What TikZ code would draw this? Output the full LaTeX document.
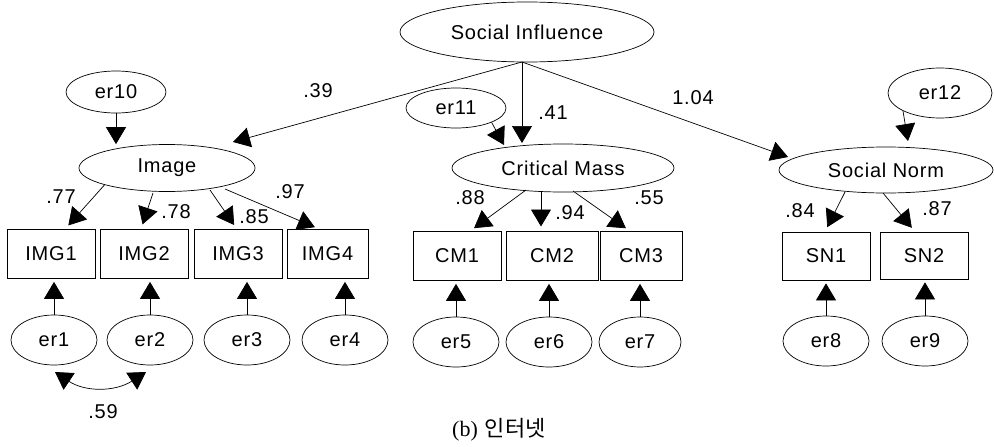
\documentclass[tikz,border=0pt]{standalone}
\usepackage{fontspec}
\setmainfont{Liberation Sans}[LetterSpace=4]
\newfontfamily\capserif{Liberation Serif}
\newfontfamily\kr{Noto Sans CJK KR}
\usetikzlibrary{shapes.geometric,arrows.meta,calc}
\tikzset{
  ell/.style={draw, ellipse, inner sep=0pt, line width=0.7pt, font=\fontsize{20}{22}\selectfont},
  obs/.style={draw, rectangle, inner sep=0pt, line width=0.7pt, minimum width=88, minimum height=49, font=\fontsize{20}{22}\selectfont},
  errell/.style={ell, minimum width=86, minimum height=50},
  arr/.style={line width=0.7pt, -{Triangle[length=17pt,width=20pt]}},
  lab/.style={font=\fontsize{20}{22}\selectfont, inner sep=0pt}
}
\begin{document}
\begin{tikzpicture}[x=1pt,y=-1pt]
\useasboundingbox (0,0) rectangle (994,447);
% latent
\node[ell, minimum width=254, minimum height=60] (SI) at (527,32) {Social Influence};
\node[ell, minimum width=176, minimum height=47] (IM) at (167,168) {Image};
\node[ell, minimum width=222, minimum height=48] (CM) at (563,168) {Critical Mass};
\node[ell, minimum width=214, minimum height=46] (SN) at (886,170) {Social Norm};
\node[ell, minimum width=100, minimum height=42] (e10) at (116,92) {er10};
\node[ell, minimum width=100, minimum height=40] (e11) at (456,108) {er11};
\node[ell, minimum width=104, minimum height=50] (e12) at (940,93) {er12};
% observed
\node[obs] (I1) at (51,254) {IMG1};
\node[obs] (I2) at (144,254) {IMG2};
\node[obs] (I3) at (238,254) {IMG3};
\node[obs, minimum width=81] (I4) at (327.5,254) {IMG4};
\node[obs] (C1) at (457,256) {CM1};
\node[obs, minimum width=92] (C2) at (552,256) {CM2};
\node[obs, minimum width=82] (C3) at (641,256) {CM3};
\node[obs, minimum height=48] (S1) at (826,256) {SN1};
\node[obs, minimum height=47] (S2) at (924,255.5) {SN2};
% errors
\node[errell] (e1) at (54,340) {er1};
\node[errell] (e2) at (150,340) {er2};
\node[errell] (e3) at (247,340) {er3};
\node[errell] (e4) at (345,340) {er4};
\node[errell] (e5) at (456,342) {er5};
\node[errell] (e6) at (549,342) {er6};
\node[errell, minimum width=82] (e7) at (640,342) {er7};
\node[errell] (e8) at (826,341) {er8};
\node[errell] (e9) at (925,341) {er9};
% structural paths
\coordinate (SIb) at (522,62);
\coordinate (IMt) at (233,142);
\coordinate (CMt) at (522,143);
\coordinate (SNt) at (788,157);
\coordinate (e11t) at (504,145);
\coordinate (e12t) at (908,141);
\draw[arr] (SIb) -- (IMt);
\draw[arr] (SIb) -- (CMt);
\draw[arr] (SIb) -- (SNt);
\draw[arr] (e10.south) -- (e10.south |- IM.north);
\draw[arr] (e11.south east) -- (e11t);
\draw[arr] (e12.south west) -- (e12t);
% loadings
\begin{scope}[shorten >=5pt]
\draw[arr] (IM.south west) -- ($(I1.north)+(14,0)$);
\draw[arr] (153,193) -- ($(I2.north)+(-3,0)$);
\draw[arr] (210,190) -- ($(I3.north)+(-1,0)$);
\draw[arr] (225,189) -- ($(I4.north)+(-8,0)$);
\draw[arr] (526,190) -- ($(C1.north)+(13,0)$);
\draw[arr] (541,192) -- (541,231.5);
\draw[arr] (573,191) -- ($(C3.north)+(-11,0)$);
\draw[arr] (845,192) -- ($(S1.north)+(-1,0)$);
\draw[arr] (883,193) -- ($(S2.north)+(-9,0)$);
\end{scope}
% errors to indicators
\foreach \e/\o in {e1/I1,e2/I2,e3/I3,e4/I4,e5/C1,e6/C2,e7/C3,e8/S1,e9/S2}
  \draw[arr, shorten >=3pt] (\e.north) -- (\e.north |- \o.south);
% covariance
\draw[line width=0.7pt, {Triangle[length=17pt,width=20pt]}-{Triangle[length=17pt,width=20pt]}] (55,372) .. controls (85,392) and (115,392) .. (146,372);
% labels
\node[lab] (l39) at (318,91) {.39};
\node[lab] (l41) at (553,113) {.41};
\node[lab] (l104) at (693,98) {1.04};
\node[lab] (l77) at (61,197) {.77};
\node[lab] (l78) at (176,212) {.78};
\node[lab] (l85) at (254,217) {.85};
\node[lab] (l97) at (290,192) {.97};
\node[lab] (l88) at (470,198) {.88};
\node[lab] (l94) at (570,213) {.94};
\node[lab] (l55) at (649,198) {.55};
\node[lab] (l84) at (800,211) {.84};
\node[lab] (l87) at (937,209) {.87};
\node[lab] (l59) at (103,412) {.59};
\node[inner sep=0pt, anchor=west] (cap) at (452,430) {\fontsize{22}{24}\selectfont\capserif(b)\hspace{7pt}\kr 인터넷};
\end{tikzpicture}
\end{document}
